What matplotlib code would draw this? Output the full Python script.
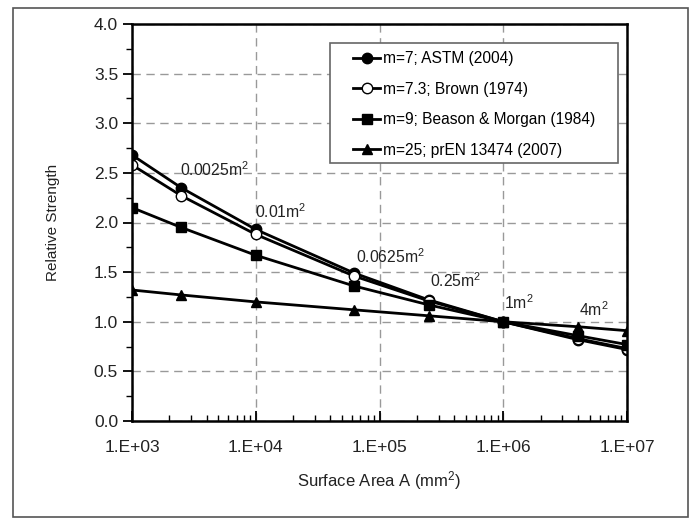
import numpy as np
import matplotlib
matplotlib.use("Agg")
import matplotlib.pyplot as plt
from matplotlib.patches import Rectangle
from matplotlib.ticker import FixedLocator, LogLocator, FuncFormatter, MultipleLocator

plt.rcParams['font.family'] = ['Liberation Sans', 'DejaVu Sans']
plt.rcParams['mathtext.fontset'] = 'custom'
plt.rcParams['mathtext.rm'] = 'Liberation Sans'
plt.rcParams['mathtext.it'] = 'Liberation Sans'
plt.rcParams['mathtext.default'] = 'rm'

# --- data -----------------------------------------------------------------
area = [1e3, 2.5e3, 1e4, 6.25e4, 2.5e5, 1e6, 4e6, 1e7]
astm = [2.68, 2.35, 1.93, 1.49, 1.22, 1.00, 0.82, 0.72]
brown = [2.58, 2.27, 1.88, 1.46, 1.21, 1.00, 0.83, 0.73]
beason = [2.15, 1.95, 1.67, 1.36, 1.17, 1.00, 0.86, 0.77]
pren = [1.32, 1.27, 1.20, 1.12, 1.06, 1.00, 0.95, 0.91]
series_labels = ["m=7; ASTM (2004)", "m=7.3; Brown (1974)",
                 "m=9; Beason & Morgan (1984)", "m=25; prEN 13474 (2007)"]

ann_text = ["0.0025m$^2$", "0.01m$^2$", "0.0625m$^2$", "0.25m$^2$", "1m$^2$", "4m$^2$"]
ann_x = [2.44e3, 9.9e3, 6.5e4, 2.56e5, 1.01e6, 4.1e6]
ann_y = [2.53, 2.11, 1.66, 1.41, 1.19, 1.12]

# --- figure ---------------------------------------------------------------
W, H = 694, 518
fig = plt.figure(figsize=(W / 100, H / 100), dpi=100)
# outer frame round the whole chart
fig.patches.append(Rectangle((13 / W, 1 / H), 675 / W, 509 / H,
                             transform=fig.transFigure, fill=False,
                             edgecolor='#555555', linewidth=1.2))
ax = fig.add_axes([132 / W, 97 / H, 495 / W, 397 / H])

styles = [dict(marker='o', mfc='black'),
          dict(marker='o', mfc='white'),
          dict(marker='s', mfc='black'),
          dict(marker='^', mfc='black')]
for ys, lab, st in zip([astm, brown, beason, pren], series_labels, styles):
    ax.plot(area, ys, color='black', lw=2.0, markersize=7.5, mec='black',
            mew=1.0, label=lab, **st)

for t, x, y in zip(ann_text, ann_x, ann_y):
    ax.text(x, y, t, fontsize=11.3, ha='left', va='center', color='#222222')

ax.set_xscale('log')
ax.set_xlim(1e3, 1e7)
ax.set_ylim(0, 4)
ax.xaxis.set_major_locator(FixedLocator([1e3, 1e4, 1e5, 1e6, 1e7]))
ax.xaxis.set_minor_locator(LogLocator(base=10, subs=np.arange(2, 10)))
ax.xaxis.set_major_formatter(FuncFormatter(lambda v, p: "1.E+%02d" % round(np.log10(v))))
ax.yaxis.set_major_locator(MultipleLocator(0.5))
ax.yaxis.set_minor_locator(MultipleLocator(0.25))
ax.yaxis.set_major_formatter(FuncFormatter(lambda v, p: "%.1f" % v))

ax.tick_params(axis='x', which='both', direction='in', labelsize=12.5, pad=14,
               labelcolor='#222222')
ax.tick_params(axis='x', which='major', length=7, width=1.3)
ax.tick_params(axis='x', which='minor', length=4, width=1.0)
ax.tick_params(axis='y', which='both', direction='out', labelsize=12.5,
               labelcolor='#222222')
ax.tick_params(axis='y', which='major', length=6.5, width=1.3)
ax.tick_params(axis='y', which='minor', length=4, width=1.0)
for s in ax.spines.values():
    s.set_linewidth(1.8)

ax.grid(True, which='major', color='#999999', linestyle=(0, (6, 4)), linewidth=1.0)
ax.set_axisbelow(True)

ax.set_xlabel("Surface Area A (mm$^2$)", fontsize=12, labelpad=10, color='#222222')
ax.set_ylabel("Relative Strength", fontsize=11, labelpad=24, color='#222222')

# legend box drawn separately so the inner padding can match
ax.add_patch(Rectangle((198 / 495, (421 - 163) / 397), 288 / 495, 120 / 397,
                       transform=ax.transAxes, facecolor='white',
                       edgecolor='#666666', linewidth=1.2, zorder=4))
leg = ax.legend(loc='upper left', bbox_to_anchor=(221 / 495, (421 - 51) / 397),
                fontsize=11.2, frameon=False, borderpad=0, borderaxespad=0,
                handlelength=1.75, handletextpad=0.15, labelspacing=1.0)
leg.set_zorder(5)

fig.savefig("out.png", dpi=100)
